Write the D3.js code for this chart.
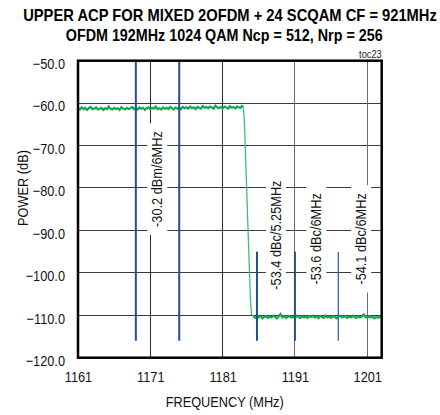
<!DOCTYPE html>
<html>
<head>
<meta charset="utf-8">
<script src="https://cdn.jsdelivr.net/npm/d3@7"></script>
<style>
  html, body { margin: 0; padding: 0; background: #fff; }
  svg { display: block; font-family: "Liberation Sans", Arial, sans-serif; }
</style>
</head>
<body>
<svg id="chart" width="440" height="415"></svg>
<script>
// ---------------- data ----------------
const titleLines = ["UPPER ACP FOR MIXED 2OFDM + 24 SCQAM CF = 921MHz",
                    "OFDM 192MHz 1024 QAM Ncp = 512, Nrp = 256"];
const chartTag = "toc23";
const xLabel = "FREQUENCY (MHz)";
const yLabel = "POWER (dB)";
const xTicks = [1161, 1171, 1181, 1191, 1201];
const yTicks = [-50, -60, -70, -80, -90, -100, -110, -120];
const xDomain = [1161, 1203];
const yDomain = [-120, -50];

// spectrum trace, 0.25 MHz sweep step
const sweepStep = 0.25;
const bandStart = 1161;
const bandPower = [
  -61.2,-61.5,-61.0,-61.4,-61.1,-61.6,-61.2,-60.9,-61.4,-61.3,
  -61.0,-61.5,-61.3,-61.1,-61.6,-61.2,-61.4,-60.8,-61.3,-61.5,
  -61.1,-61.4,-61.2,-61.6,-61.0,-61.3,-61.5,-61.1,-61.4,-61.2,
  -60.9,-61.4,-61.2,-61.5,-61.0,-61.3,-61.1,-61.6,-61.2,-61.0,
  -61.4,-61.1,-61.3,-60.8,-61.4,-61.2,-61.5,-61.0,-61.3,-61.1,
  -61.4,-60.9,-61.2,-61.5,-61.0,-61.3,-61.1,-61.4,-60.9,-61.2,
  -61.0,-61.3,-60.8,-61.2,-61.0,-61.4,-60.9,-61.1,-61.3,-60.7,
  -61.1,-60.9,-61.2,-60.8,-61.0,-61.3,-60.6,-61.0,-61.2,-60.9,
  -61.2,-60.8,-61.0,-61.3,-60.7,-61.1,-60.9,-61.2,-60.8,-61.0,
  -61.1,-60.5
];
const edgeFreq  = [1183.75, 1183.85, 1184.0, 1184.3, 1184.6, 1184.85, 1185.0, 1185.25];
const edgePower = [-60.5, -60.8, -64.0, -79.0, -94.0, -106.5, -109.8, -110.3];
const floorStart = 1185.25;
const floorPower = [
  -110.3,-110.6,-110.2,-110.5,-110.1,-110.7,-110.4,-110.2,-110.6,-110.3,
  -110.5,-110.1,-110.4,-110.7,-110.3,-109.7,-110.5,-110.2,-110.6,-110.4,
  -110.2,-110.5,-110.3,-110.7,-110.1,-110.4,-110.6,-110.2,-110.5,-110.3,
  -110.6,-110.2,-110.4,-110.1,-110.5,-110.3,-110.7,-110.2,-110.4,-110.6,
  -110.1,-110.5,-110.3,-110.6,-110.2,-110.4,-110.7,-110.3,-110.1,-110.5,
  -110.4,-110.2,-110.6,-110.3,-110.5,-110.1,-110.4,-110.6,-110.2,-110.5,
  -110.3,-109.8,-110.4,-110.6,-110.2,-110.5,-110.3,-110.7,-110.4,-110.6,
  -110.3,-110.5
];

// channel markers
const markerFreq   = [1169, 1175, 1185.75, 1191, 1197];
const markerTop    = [-50, -50, -95, -95, -95];
const markerBottom = [-116, -116, -116, -116, -116];
const markerWeight = [2, 2, 2, 2, 1.3];

// annotations (centre of label in data units)
const noteText  = ["-30.2 dBm/6MHz", "-53.4 dBc/5.25MHz", "-53.6 dBc/6MHz", "-54.1 dBc/6MHz"];
const noteFreq  = [1171.9, 1188.3, 1193.9, 1200.1];
const notePower = [-77.9, -91.1, -92.0, -92.0];

// ---------------- drawing ----------------
const svg = d3.select("#chart");
const x = d3.scaleLinear().domain(xDomain).range([78, 381.7]);
const y = d3.scaleLinear().domain(yDomain).range([357.7, 60.7]);
const SQ = 0.85; // horizontal squeeze to mimic narrow font

function squeeze(sel, k) {
  sel.each(function() {
    const w = this.getComputedTextLength();
    d3.select(this).attr("textLength", w * k).attr("lengthAdjust", "spacingAndGlyphs");
  });
}

// titles: scaled horizontally to the reference widths
function title(text, cx, base, width) {
  const t = svg.append("text").attr("x", 0).attr("y", 0).attr("text-anchor", "middle")
    .attr("font-size", 17).attr("font-weight", "bold").attr("fill", "#000").text(text);
  const w = t.node().getComputedTextLength();
  t.attr("transform", `translate(${cx},${base}) scale(${width / w},1)`);
}
title(titleLines[0], 230, 20.5, 414);
title(titleLines[1], 224.2, 40.5, 317);

svg.append("text").attr("x", 381.7).attr("y", 58).attr("text-anchor", "end")
  .attr("font-size", 10.5).attr("fill", "#222").text(chartTag).call(squeeze, 0.88);

// grid
const grid = svg.append("g");
grid.selectAll("line.h").data(yTicks.filter(v => v > yDomain[0] && v < yDomain[1]))
  .join("line").attr("class", "h")
  .attr("x1", x(xDomain[0])).attr("x2", x(xDomain[1]))
  .attr("y1", d => y(d)).attr("y2", d => y(d))
  .attr("stroke", "#3a3a3a").attr("stroke-width", 1).attr("shape-rendering", "crispEdges");
grid.selectAll("line.v").data(xTicks.filter(v => v > xDomain[0]))
  .join("line").attr("class", "v")
  .attr("x1", d => x(d)).attr("x2", d => x(d))
  .attr("y1", y(yDomain[0])).attr("y2", y(yDomain[1]))
  .attr("stroke", d => d > 1185 ? "#6a6a6a" : "#2a2a2a").attr("stroke-width", 1)
  .attr("shape-rendering", "crispEdges");

// annotation boxes + text
const notes = svg.append("g");
noteText.forEach((t, i) => {
  const g = notes.append("g")
    .attr("transform", `translate(${x(noteFreq[i])},${y(notePower[i])}) rotate(-90)`);
  const rect = g.append("rect").attr("fill", "#fff");
  const txt = g.append("text").attr("x", 0).attr("y", 5.5)
    .attr("text-anchor", "middle").attr("font-size", 15).attr("fill", "#111").text(t);
  txt.call(squeeze, SQ);
  const bb = txt.node().getBBox();
  rect.attr("x", bb.x - 8).attr("y", bb.y - 1).attr("width", bb.width + 16).attr("height", bb.height + 3);
});

// trace
const line = d3.line().x(d => x(d[0])).y(d => y(d[1]));
const bandPts = bandPower.map((p, i) => [bandStart + i * sweepStep, p]);
const floorPts = floorPower.map((p, i) => [floorStart + i * sweepStep, p]);
const edgePts = edgeFreq.map((f, i) => [f, edgePower[i]]);
const trace = svg.append("g");
trace.append("path").datum(edgePts).attr("d", line)
  .attr("fill", "none").attr("stroke", "#3cc070").attr("stroke-width", 1.3);
trace.append("path").datum(bandPts).attr("d", line)
  .attr("fill", "none").attr("stroke", "#14a84c").attr("stroke-width", 2.2);
trace.append("path").datum(floorPts).attr("d", line)
  .attr("fill", "none").attr("stroke", "#14a84c").attr("stroke-width", 2.2);

// markers
svg.append("g").selectAll("line").data(markerFreq).join("line")
  .attr("x1", d => x(d)).attr("x2", d => x(d))
  .attr("y1", (d, i) => y(markerTop[i])).attr("y2", (d, i) => y(markerBottom[i]))
  .attr("stroke", (d, i) => markerWeight[i] < 2 ? "#3565a8" : "#244f8c")
  .attr("stroke-width", (d, i) => markerWeight[i]);

// frame
svg.append("rect")
  .attr("x", x(xDomain[0])).attr("y", y(yDomain[1]))
  .attr("width", x(xDomain[1]) - x(xDomain[0])).attr("height", y(yDomain[0]) - y(yDomain[1]))
  .attr("fill", "none").attr("stroke", "#000").attr("stroke-width", 2.5);

// axes
const yAxis = d3.axisLeft(y).tickValues(yTicks).tickFormat(d3.format(".1f")).tickSize(0).tickPadding(0);
const gy = svg.append("g").attr("transform", "translate(65,0)").call(yAxis);
gy.select(".domain").remove();
gy.selectAll("text").attr("font-size", 15).attr("fill", "#111")
  .attr("font-family", "Liberation Sans, Arial, sans-serif")
  .attr("dy", null).attr("dominant-baseline", null).attr("y", 7.8).call(squeeze, SQ);

const xAxis = d3.axisBottom(x).tickValues(xTicks).tickFormat(d3.format("d")).tickSize(0).tickPadding(0);
const gx = svg.append("g").attr("transform", "translate(0,0)").call(xAxis);
gx.select(".domain").remove();
gx.selectAll("text").attr("font-size", 15).attr("fill", "#111")
  .attr("font-family", "Liberation Sans, Arial, sans-serif")
  .attr("dy", null).attr("y", 382).call(squeeze, SQ);

// axis titles
svg.append("text").attr("x", 224.7).attr("y", 406.5).attr("text-anchor", "middle")
  .attr("font-size", 15).attr("fill", "#111").text(xLabel).call(squeeze, SQ);
svg.append("text").attr("transform", "translate(27.5,188) rotate(-90)").attr("text-anchor", "middle")
  .attr("font-size", 15).attr("fill", "#111").text(yLabel).call(squeeze, SQ);
</script>
</body>
</html>
